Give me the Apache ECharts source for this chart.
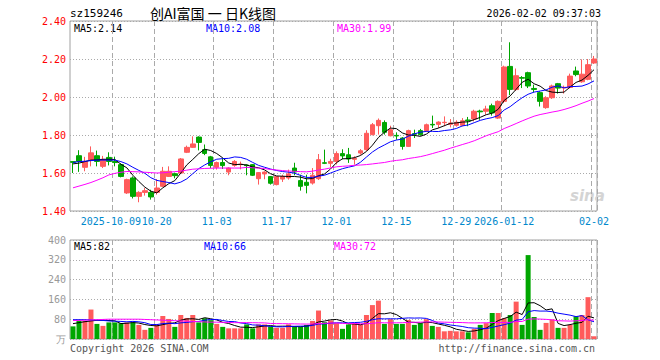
<!DOCTYPE html>
<html><head><meta charset="utf-8">
<script src="https://cdn.jsdelivr.net/npm/echarts@6/dist/echarts.min.js"></script>
<style>html,body{margin:0;padding:0;background:#fff}#c{width:660px;height:360px}</style>
</head><body><div id="c"></div>
<script>
const dates = [
'2025-09-22','2025-09-23','2025-09-24','2025-09-25','2025-09-26','2025-09-29','2025-09-30',
'2025-10-09','2025-10-10','2025-10-13','2025-10-14','2025-10-15','2025-10-16','2025-10-17',
'2025-10-20','2025-10-21','2025-10-22','2025-10-23','2025-10-24','2025-10-27','2025-10-28','2025-10-29','2025-10-30','2025-10-31',
'2025-11-03','2025-11-04','2025-11-05','2025-11-06','2025-11-07','2025-11-10','2025-11-11','2025-11-12','2025-11-13','2025-11-14',
'2025-11-17','2025-11-18','2025-11-19','2025-11-20','2025-11-21','2025-11-24','2025-11-25','2025-11-26','2025-11-27','2025-11-28',
'2025-12-01','2025-12-02','2025-12-03','2025-12-04','2025-12-05','2025-12-08','2025-12-09','2025-12-10','2025-12-11','2025-12-12',
'2025-12-15','2025-12-16','2025-12-17','2025-12-18','2025-12-19','2025-12-22','2025-12-23','2025-12-24','2025-12-25','2025-12-26',
'2025-12-29','2025-12-30','2025-12-31',
'2026-01-05','2026-01-06','2026-01-07','2026-01-08','2026-01-09','2026-01-12','2026-01-13','2026-01-14','2026-01-15','2026-01-16',
'2026-01-19','2026-01-20','2026-01-21','2026-01-22','2026-01-23','2026-01-26','2026-01-27','2026-01-28','2026-01-29','2026-01-30',
'2026-02-02'];
const tickDates = ['2025-10-09','2025-10-20','2025-11-03','2025-11-17','2025-12-01','2025-12-15','2025-12-29','2026-01-12','2026-02-02'];
const tickLabels = ['2025-10-09','10-20','11-03','11-17','12-01','12-15','12-29','2026-01-12','02-02'];

const openP = [1.660,1.691,1.630,1.668,1.691,1.635,1.682,1.660,1.644,1.495,
1.574,1.477,1.498,1.498,1.498,1.530,1.582,1.596,1.600,1.709,
1.735,1.789,1.723,1.685,1.630,1.655,1.605,1.640,1.644,1.642,
1.644,1.570,1.595,1.581,1.539,1.568,1.574,1.626,1.560,1.551,
1.547,1.570,1.654,1.651,1.660,1.702,1.696,1.672,1.705,1.723,
1.802,1.849,1.866,1.796,1.798,1.784,1.740,1.807,1.823,1.823,
1.856,1.856,1.865,1.856,1.851,1.851,1.879,1.884,1.926,1.925,
1.954,1.889,1.977,2.161,2.039,2.102,2.128,2.045,2.023,1.944,
1.996,2.070,2.048,2.050,2.137,2.080,2.093,2.179];
const closeP = [1.656,1.661,1.660,1.706,1.661,1.672,1.661,1.655,1.582,1.565,
1.477,1.498,1.507,1.474,1.521,1.609,1.609,1.586,1.674,1.735,
1.753,1.761,1.703,1.640,1.655,1.639,1.626,1.661,1.647,1.639,
1.588,1.602,1.605,1.546,1.581,1.581,1.595,1.605,1.530,1.535,
1.588,1.670,1.651,1.661,1.702,1.690,1.674,1.677,1.717,1.809,
1.854,1.877,1.814,1.828,1.795,1.740,1.823,1.804,1.802,1.854,
1.853,1.868,1.867,1.863,1.867,1.875,1.875,1.925,1.922,1.937,
1.916,1.977,2.158,2.040,2.112,2.099,2.058,2.040,1.977,1.996,
2.058,2.047,2.051,2.110,2.118,2.120,2.170,2.200];
const lowP = [1.600,1.606,1.609,1.635,1.635,1.626,1.640,1.635,1.577,1.490,
1.466,1.446,1.481,1.460,1.486,1.526,1.579,1.572,1.596,1.705,
1.732,1.719,1.694,1.625,1.618,1.621,1.588,1.633,1.619,1.588,
1.584,1.539,1.567,1.539,1.535,1.553,1.565,1.588,1.507,1.493,
1.539,1.563,1.647,1.630,1.645,1.672,1.653,1.644,1.696,1.716,
1.798,1.802,1.802,1.793,1.775,1.723,1.737,1.784,1.796,1.816,
1.837,1.837,1.846,1.840,1.844,1.846,1.846,1.872,1.880,1.907,
1.902,1.884,1.968,2.010,2.032,2.047,2.047,2.025,1.950,1.938,
1.990,2.018,2.018,2.045,2.109,2.075,2.088,2.174];
const highP = [1.662,1.720,1.685,1.740,1.718,1.690,1.709,1.686,1.651,1.570,
1.582,1.504,1.521,1.512,1.568,1.632,1.635,1.602,1.679,1.744,
1.793,1.793,1.750,1.690,1.660,1.680,1.630,1.668,1.660,1.645,
1.647,1.605,1.609,1.584,1.584,1.591,1.618,1.654,1.591,1.591,
1.626,1.700,1.723,1.675,1.714,1.725,1.732,1.688,1.726,1.825,
1.863,1.887,1.877,1.849,1.814,1.789,1.828,1.828,1.832,1.860,
1.902,1.872,1.898,1.884,1.877,1.889,1.895,1.933,1.933,1.954,
1.965,1.982,2.165,2.288,2.150,2.110,2.133,2.065,2.030,2.004,
2.065,2.074,2.060,2.123,2.160,2.198,2.200,2.216];
const volume = [51,73,73,119,61,53,67,67,64,67,
67,57,37,45,59,93,81,49,97,85,
97,67,84,76,61,49,43,43,43,59,
43,59,59,51,45,45,59,51,49,57,
73,115,68,75,64,41,59,64,59,97,
137,155,61,80,61,61,77,57,64,80,
53,49,31,33,31,31,27,41,57,64,
105,105,84,97,151,57,339,89,37,65,
79,45,45,57,92,97,169,11];

// moving-average values before a full window exists
const ma5Head = [1.648,1.652,1.660,1.668];
const ma10Head = [1.655,1.660,1.662,1.665,1.668,1.668,1.668,1.668,1.660];
const ma30Head = [1.522,1.531,1.540,1.550,1.562,1.575,1.590,1.598,1.604,1.608,1.607,1.606,1.604,1.602,1.600,1.601,1.604,1.607,1.610,1.615,1.620,1.622,1.624,1.625,1.626,1.626,1.626,1.626,1.626];
const vma5Head = [62,66,70,73];
const vma10Head = [78,78,78,77,76,75,73,72,71];
const vma30Head = [75,75,76,77,78,79,80,80,80,80,80,80,79,78,77,76,75,74,73,72,71,70,69,68,68,67,67,66,66];

const volTicks = [0,80,160,240,320,400];

function ma(arr, n, head){
  return arr.map((v,i)=>{
    if(i < n-1) return head[i];
    let s=0; for(let k=i-n+1;k<=i;k++) s+=arr[k];
    return +(s/n).toFixed(4);
  });
}

const RED='#ff5b5b', GREEN='#00a600';
const MONO='"DejaVu Sans Mono", "Liberation Mono", monospace';
const tickIdx = tickDates.map(d=>dates.indexOf(d));
const isTick = (i)=>tickIdx.indexOf(i)>=0;
const firstTick = tickIdx[0];

const kData = openP.map((o,i)=>[o, closeP[i], lowP[i], highP[i]]);
const volData = volume.map((v,i)=>({value:v, itemStyle:{color: closeP[i]>=openP[i]?RED:GREEN}}));

const chart = echarts.init(document.getElementById('c'), null, {renderer:'svg', width:660, height:360});

const splitV = {show:true, interval:(i)=>isTick(i), lineStyle:{color:'#aaaaaa', width:1, type:[5,3]}};
const splitH = {show:true, lineStyle:{color:'#aaaaaa', width:1, type:[1,2]}};
const lblBase = {color:'#0088cc', fontFamily:MONO, fontSize:10, margin:5, hideOverlap:false,
  formatter:(v)=>tickLabels[tickDates.indexOf(v)]||''};

function txt(x,y,t,color,font,align){
  return {type:'text', x:x, y:y, silent:true, style:{text:t, fill:color, font:font, textAlign:align||'left', textVerticalAlign:'middle'}};
}

chart.setOption({
  animation:false,
  backgroundColor:'#ffffff',
  grid:[
    {left:70, width:527, top:21, height:190, show:true, borderColor:'#a0a0a0', borderWidth:1},
    {left:70, width:527, top:240, height:99, show:true, borderColor:'#a0a0a0', borderWidth:1}
  ],
  xAxis:[
    {type:'category', gridIndex:0, data:dates, boundaryGap:true,
     axisLine:{show:false}, axisTick:{show:false},
     axisLabel:Object.assign({}, lblBase, {interval:(i)=>isTick(i) && i!==firstTick}),
     splitLine:splitV},
    {type:'category', gridIndex:1, data:dates, boundaryGap:true,
     axisLine:{show:false}, axisTick:{show:false}, axisLabel:{show:false},
     splitLine:splitV},
    {type:'category', gridIndex:0, data:dates, boundaryGap:true, position:'bottom',
     axisLine:{show:false}, axisTick:{show:false}, splitLine:{show:false},
     axisLabel:Object.assign({}, lblBase, {interval:(i)=>i===firstTick, padding:[0,8,0,0]})}
  ],
  yAxis:[
    {type:'value', gridIndex:0, min:1.4, max:2.4, interval:0.2,
     axisLine:{show:false}, axisTick:{show:false},
     axisLabel:{formatter:(v)=>v.toFixed(2), color:'#ff0000', fontFamily:MONO, fontSize:10, margin:4},
     splitLine:splitH},
    {type:'value', gridIndex:1, min:volTicks[0], max:volTicks[volTicks.length-1], interval:80,
     axisLine:{show:false}, axisTick:{show:false},
     axisLabel:{formatter:(v)=>v===0?'万':String(v), color:'#999999', fontFamily:MONO, fontSize:10, margin:4},
     splitLine:splitH}
  ],
  series:[
    {type:'candlestick', xAxisIndex:0, yAxisIndex:0, data:kData, barWidth:5,
     itemStyle:{color:RED, color0:GREEN, borderColor:RED, borderColor0:GREEN, borderWidth:1}},
    {type:'line', xAxisIndex:0, yAxisIndex:0, data:ma(closeP,5,ma5Head), symbol:'none', lineStyle:{color:'#000000', width:1}},
    {type:'line', xAxisIndex:0, yAxisIndex:0, data:ma(closeP,10,ma10Head), symbol:'none', lineStyle:{color:'#0000ff', width:1}},
    {type:'line', xAxisIndex:0, yAxisIndex:0, data:ma(closeP,30,ma30Head), symbol:'none', lineStyle:{color:'#ff00ff', width:1}},
    {type:'bar', xAxisIndex:1, yAxisIndex:1, data:volData, barWidth:5},
    {type:'line', xAxisIndex:1, yAxisIndex:1, data:ma(volume,5,vma5Head), symbol:'none', lineStyle:{color:'#000000', width:1}},
    {type:'line', xAxisIndex:1, yAxisIndex:1, data:ma(volume,10,vma10Head), symbol:'none', lineStyle:{color:'#0000ff', width:1}},
    {type:'line', xAxisIndex:1, yAxisIndex:1, data:ma(volume,30,vma30Head), symbol:'none', lineStyle:{color:'#ff00ff', width:1}}
  ],
  graphic:[
    txt(70,13,'sz159246','#000',`11px ${MONO}`),
    txt(150,13,'创AI富国 一 日K线图','#000','14px "Noto Sans CJK SC"'),
    txt(601,13,'2026-02-02 09:37:03','#000',`10px ${MONO}`,'right'),
    txt(74,28,'MA5:2.14','#000',`10px ${MONO}`),
    txt(206,28,'MA10:2.08','#0000ff',`10px ${MONO}`),
    txt(337,28,'MA30:1.99','#ff00ff',`10px ${MONO}`),
    txt(74,246,'MA5:82','#000',`10px ${MONO}`),
    txt(204,246,'MA10:66','#0000ff',`10px ${MONO}`),
    txt(334,246,'MA30:72','#ff00ff',`10px ${MONO}`),
    txt(70,348,'Copyright 2026 SINA.COM','#555',`10px ${MONO}`),
    txt(595,348,'http://finance.sina.com.cn','#555',`10px ${MONO}`,'right'),
    txt(570,196,'sina','#d4d4d4','italic bold 15px "DejaVu Sans"')
  ]
});
</script></body></html>
